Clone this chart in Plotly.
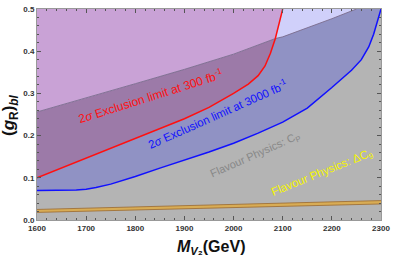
import plotly.graph_objects as go

# ---- data ----
red_m = [1600, 1700, 1800, 1900, 1950, 2000, 2030, 2050, 2064, 2075, 2085, 2092, 2100]
red_g = [0.100, 0.147, 0.194, 0.240, 0.267, 0.300, 0.322, 0.342, 0.365, 0.395, 0.430, 0.465, 0.500]

blue_m = [1600, 1650, 1680, 1700, 1720, 1750, 1800, 1850, 1900, 1950, 2000, 2050, 2100, 2150, 2200, 2240, 2260, 2275, 2285, 2292, 2300]
blue_g = [0.070, 0.070, 0.071, 0.073, 0.077, 0.085, 0.103, 0.123, 0.142, 0.161, 0.182, 0.206, 0.232, 0.265, 0.314, 0.355, 0.380, 0.410, 0.440, 0.470, 0.500]

# C_P bound (diagonal); shares the crossing point (2085) with the red curve
cp_m = [1600, 1700, 1800, 1900, 2000, 2085, 2100, 2200, 2250]
cp_g = [0.256, 0.289, 0.323, 0.357, 0.393, 0.430, 0.434, 0.477, 0.500]

# Delta C9 band
c9_m = [1600, 2300]
c9_lo = [0.018, 0.038]
c9_hi = [0.025, 0.046]

xmin, xmax, ymin, ymax = 1600, 2300, 0.0, 0.5

C_GRAY = '#b4b4b4'
C_BLUEGRAY = '#9092c4'
C_DARKPUR = '#9c7aa8'
C_LAV = '#d0d0fa'
C_LIGHTPUR = '#c9a2d6'

fig = go.Figure()

def above(ms, gs, color):
    xs = list(ms) + [ms[-1], ms[0]]
    ys = list(gs) + [ymax, ymax]
    fig.add_trace(go.Scatter(x=xs, y=ys, fill='toself', fillcolor=color,
                             mode='none', hoverinfo='skip', showlegend=False))

# above blue -> blue-grey (below C_P)
above(blue_m, blue_g, C_BLUEGRAY)
# above red -> dark purple (below C_P)
above(red_m, red_g, C_DARKPUR)
# above C_P -> lavender
above(cp_m, cp_g, C_LAV)
# above both C_P and red -> light purple
k = cp_m.index(2085)
j = red_m.index(2085)
a_m = cp_m[:k + 1] + red_m[j + 1:]
a_g = cp_g[:k + 1] + red_g[j + 1:]
above(a_m, a_g, C_LIGHTPUR)

# boundary lines
fig.add_trace(go.Scatter(x=cp_m, y=cp_g, mode='lines', line=dict(color='#7a6c8c', width=0.9),
                         hoverinfo='skip', showlegend=False))
fig.add_trace(go.Scatter(x=red_m, y=red_g, mode='lines', line=dict(color='#ff1010', width=1.5),
                         hoverinfo='skip', showlegend=False))
fig.add_trace(go.Scatter(x=blue_m, y=blue_g, mode='lines', line=dict(color='#1010ff', width=1.5),
                         hoverinfo='skip', showlegend=False))

# Delta C9 band
fig.add_trace(go.Scatter(x=c9_m, y=c9_lo, mode='lines', line=dict(color='#9a6a30', width=0.8),
                         hoverinfo='skip', showlegend=False))
fig.add_trace(go.Scatter(x=c9_m, y=c9_hi, mode='lines', line=dict(color='#9a6a30', width=0.8),
                         fill='tonexty', fillcolor='#d8ac55', hoverinfo='skip', showlegend=False))

font_fam = 'Liberation Sans, Arial, sans-serif'
ann = [
    dict(x=1830, y=0.294, text='2<i>σ</i> Exclusion limit at 300 fb<sup>-1</sup>', color='#ff1010', angle=-17.5, size=12),
    dict(x=1967, y=0.251, text='2<i>σ</i> Exclusion limit at 3000 fb<sup>-1</sup>', color='#1010ff', angle=-24, size=11.5),
    dict(x=2045, y=0.153, text='Flavour Physics: C<sub>P</sub>', color='#888888', angle=-24, size=11),
    dict(x=2180, y=0.112, text='Flavour Physics: ΔC<sub>9</sub>', color='#f4f400', angle=-22, size=11.5),
]
for a in ann:
    fig.add_annotation(x=a['x'], y=a['y'], text=a['text'], showarrow=False, textangle=a['angle'],
                       font=dict(family=font_fam, size=a['size'], color=a['color']))

# axis titles
fig.add_annotation(xref='paper', yref='paper', x=-0.08, y=0.5, xanchor='center', yanchor='middle',
                   text='<b>(<i>g</i><sub>R</sub>)<sub><i>bl</i></sub></b>', textangle=-90, showarrow=False,
                   font=dict(family=font_fam, size=17, color='#111111'))
fig.add_annotation(xref='paper', yref='paper', x=0.505, y=-0.075, xanchor='center', yanchor='top',
                   text='<b><i>M</i><sub><i>V</i>₂</sub>(GeV)</b>', showarrow=False,
                   font=dict(family=font_fam, size=16, color='#111111'))

axis_common = dict(showgrid=False, zeroline=False, showline=True, linecolor='#999999', linewidth=1,
                   mirror='ticks', ticks='inside', ticklen=4, tickcolor='#555555', tickwidth=1,
                   tickfont=dict(family=font_fam, size=8, color='#333333', weight='bold'))
fig.update_xaxes(range=[xmin, xmax], dtick=100, tick0=1600,
                 minor=dict(dtick=20, ticks='inside', ticklen=2, tickcolor='#555555'), **axis_common)
fig.update_yaxes(range=[ymin, ymax], dtick=0.1, tickformat='.1f',
                 minor=dict(dtick=0.02, ticks='inside', ticklen=2, tickcolor='#555555'), **axis_common)

fig.update_layout(width=395, height=259, margin=dict(l=37, r=11, t=5, b=39),
                  paper_bgcolor='white', plot_bgcolor=C_GRAY, showlegend=False)

fig.write_html('out.html', config={'displayModeBar': False},
               post_script="document.body.style.margin='0';document.body.style.padding='0';")
